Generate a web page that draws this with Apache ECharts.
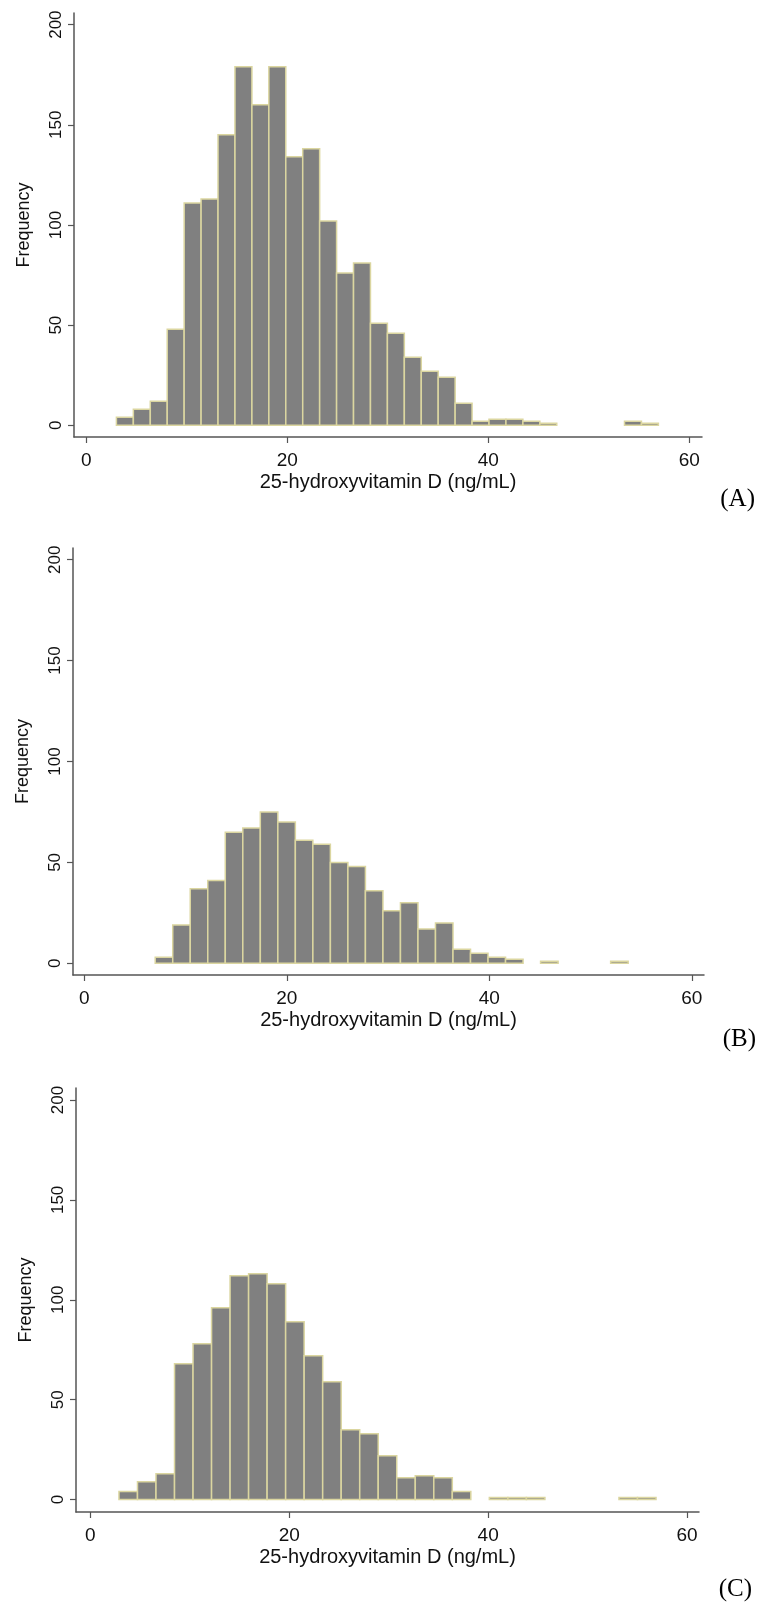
<!DOCTYPE html>
<html>
<head>
<meta charset="utf-8">
<script src="https://cdn.jsdelivr.net/npm/echarts@6/dist/echarts.min.js"></script>
<style>
  html, body { margin: 0; background: #fff; }
  #chart { width: 758px; height: 1604px; }
</style>
</head>
<body>
<div id="chart"></div>
<script>
// axis text and ticks
const xTicks = [0, 20, 40, 60];
const yTicks = [0, 50, 100, 150, 200];
const xName = '25-hydroxyvitamin D (ng/mL)';
const yName = 'Frequency';
const panelNames = ['(A)', '(B)', '(C)'];

// histogram bins (first bin edge, bin width, counts)
const binStartA = 3.0;
const binWidthA = 1.685;
const countsA = [4, 8, 12, 48, 111, 113, 145, 179, 160, 179, 134, 138, 102, 76, 81, 51,
                 46, 34, 27, 24, 11, 2, 3, 3, 2, 1, 0, 0, 0, 0, 2, 1];

const binStartB = 7.0;
const binWidthB = 1.73;
const countsB = [3, 19, 37, 41, 65, 67, 75, 70, 61, 59, 50, 48, 36, 26, 30, 17,
                 20, 7, 5, 3, 2, 0, 1, 0, 0, 0, 1];

const binStartC = 2.88;
const binWidthC = 1.862;
const countsC = [4, 9, 13, 68, 78, 96, 112, 113, 108, 89, 72, 59, 35, 33, 22, 11,
                 12, 11, 4, 0, 1, 1, 1, 0, 0, 0, 0, 1, 1];

const chart = echarts.init(document.getElementById('chart'), null, { renderer: 'canvas' });

const SANS = '"Liberation Sans", Arial, sans-serif';
const SERIF = '"Liberation Serif", "Times New Roman", serif';
const AXIS_COLOR = '#555';

// plot regions of the three panels (Stata-style axes that run past the data range)
const panels = [
    { grid: { left: 74, width: 628, top: 13, height: 424 }, xRange: [-1.22, 61.26], yRange: [-5.84, 205.8], label: [755, 499] },
    { grid: { left: 73, width: 631, top: 548, height: 427 }, xRange: [-1.12, 61.2], yRange: [-5.8, 205.8], label: [756, 1039] },
    { grid: { left: 76, width: 623, top: 1088, height: 424 }, xRange: [-1.44, 61.2], yRange: [-6.2, 206], label: [752, 1589] },
];

function toBins(start, width, counts) {
    return counts.map((n, i) => [start + i * width, start + (i + 1) * width, n]);
}

const bins = [
    toBins(binStartA, binWidthA, countsA),
    toBins(binStartB, binWidthB, countsB),
    toBins(binStartC, binWidthC, countsC),
];

function renderBin(params, api) {
    const n = api.value(2);
    if (!n) return { type: 'group', children: [] };
    const topLeft = api.coord([api.value(0), n]);
    const bottomRight = api.coord([api.value(1), 0]);
    return {
        type: 'rect',
        shape: {
            x: topLeft[0],
            y: topLeft[1],
            width: bottomRight[0] - topLeft[0],
            height: bottomRight[1] - topLeft[1],
        },
        style: { fill: '#808080', stroke: '#dbd6a0', lineWidth: 1.5 },
    };
}

const option = {
    animation: false,
    backgroundColor: '#fff',
    grid: panels.map((p) => ({ ...p.grid, containLabel: false })),
    xAxis: panels.map((p, i) => ({
        type: 'value',
        gridIndex: i,
        min: p.xRange[0],
        max: p.xRange[1],
        name: xName,
        nameLocation: 'middle',
        nameGap: 35,
        nameTextStyle: { fontFamily: SANS, fontSize: 20, color: '#111' },
        axisLine: { onZero: false, lineStyle: { color: AXIS_COLOR, width: 1.5 } },
        axisTick: { customValues: xTicks, length: 6, lineStyle: { color: AXIS_COLOR, width: 1.2 } },
        axisLabel: { customValues: xTicks, margin: 14, fontFamily: SANS, fontSize: 19, color: '#111' },
        splitLine: { show: false },
    })),
    yAxis: panels.map((p, i) => ({
        type: 'value',
        gridIndex: i,
        min: p.yRange[0],
        max: p.yRange[1],
        name: yName,
        nameLocation: 'middle',
        nameGap: 41,
        nameTextStyle: { fontFamily: SANS, fontSize: 18, color: '#111' },
        axisLine: { onZero: false, lineStyle: { color: AXIS_COLOR, width: 1.5 } },
        axisTick: { customValues: yTicks, length: 6, lineStyle: { color: AXIS_COLOR, width: 1.2 } },
        axisLabel: { customValues: yTicks, rotate: 90, margin: 9, fontFamily: SANS, fontSize: 17, color: '#111' },
        splitLine: { show: false },
    })),
    series: bins.map((data, i) => ({
        type: 'custom',
        xAxisIndex: i,
        yAxisIndex: i,
        data: data,
        renderItem: renderBin,
        clip: false,
    })),
    graphic: panels.map((p, i) => ({
        type: 'text',
        x: p.label[0],
        y: p.label[1],
        style: {
            text: panelNames[i],
            font: '25px ' + SERIF,
            fill: '#000',
            align: 'right',
            verticalAlign: 'middle',
        },
    })),
};

chart.setOption(option);
</script>
</body>
</html>
